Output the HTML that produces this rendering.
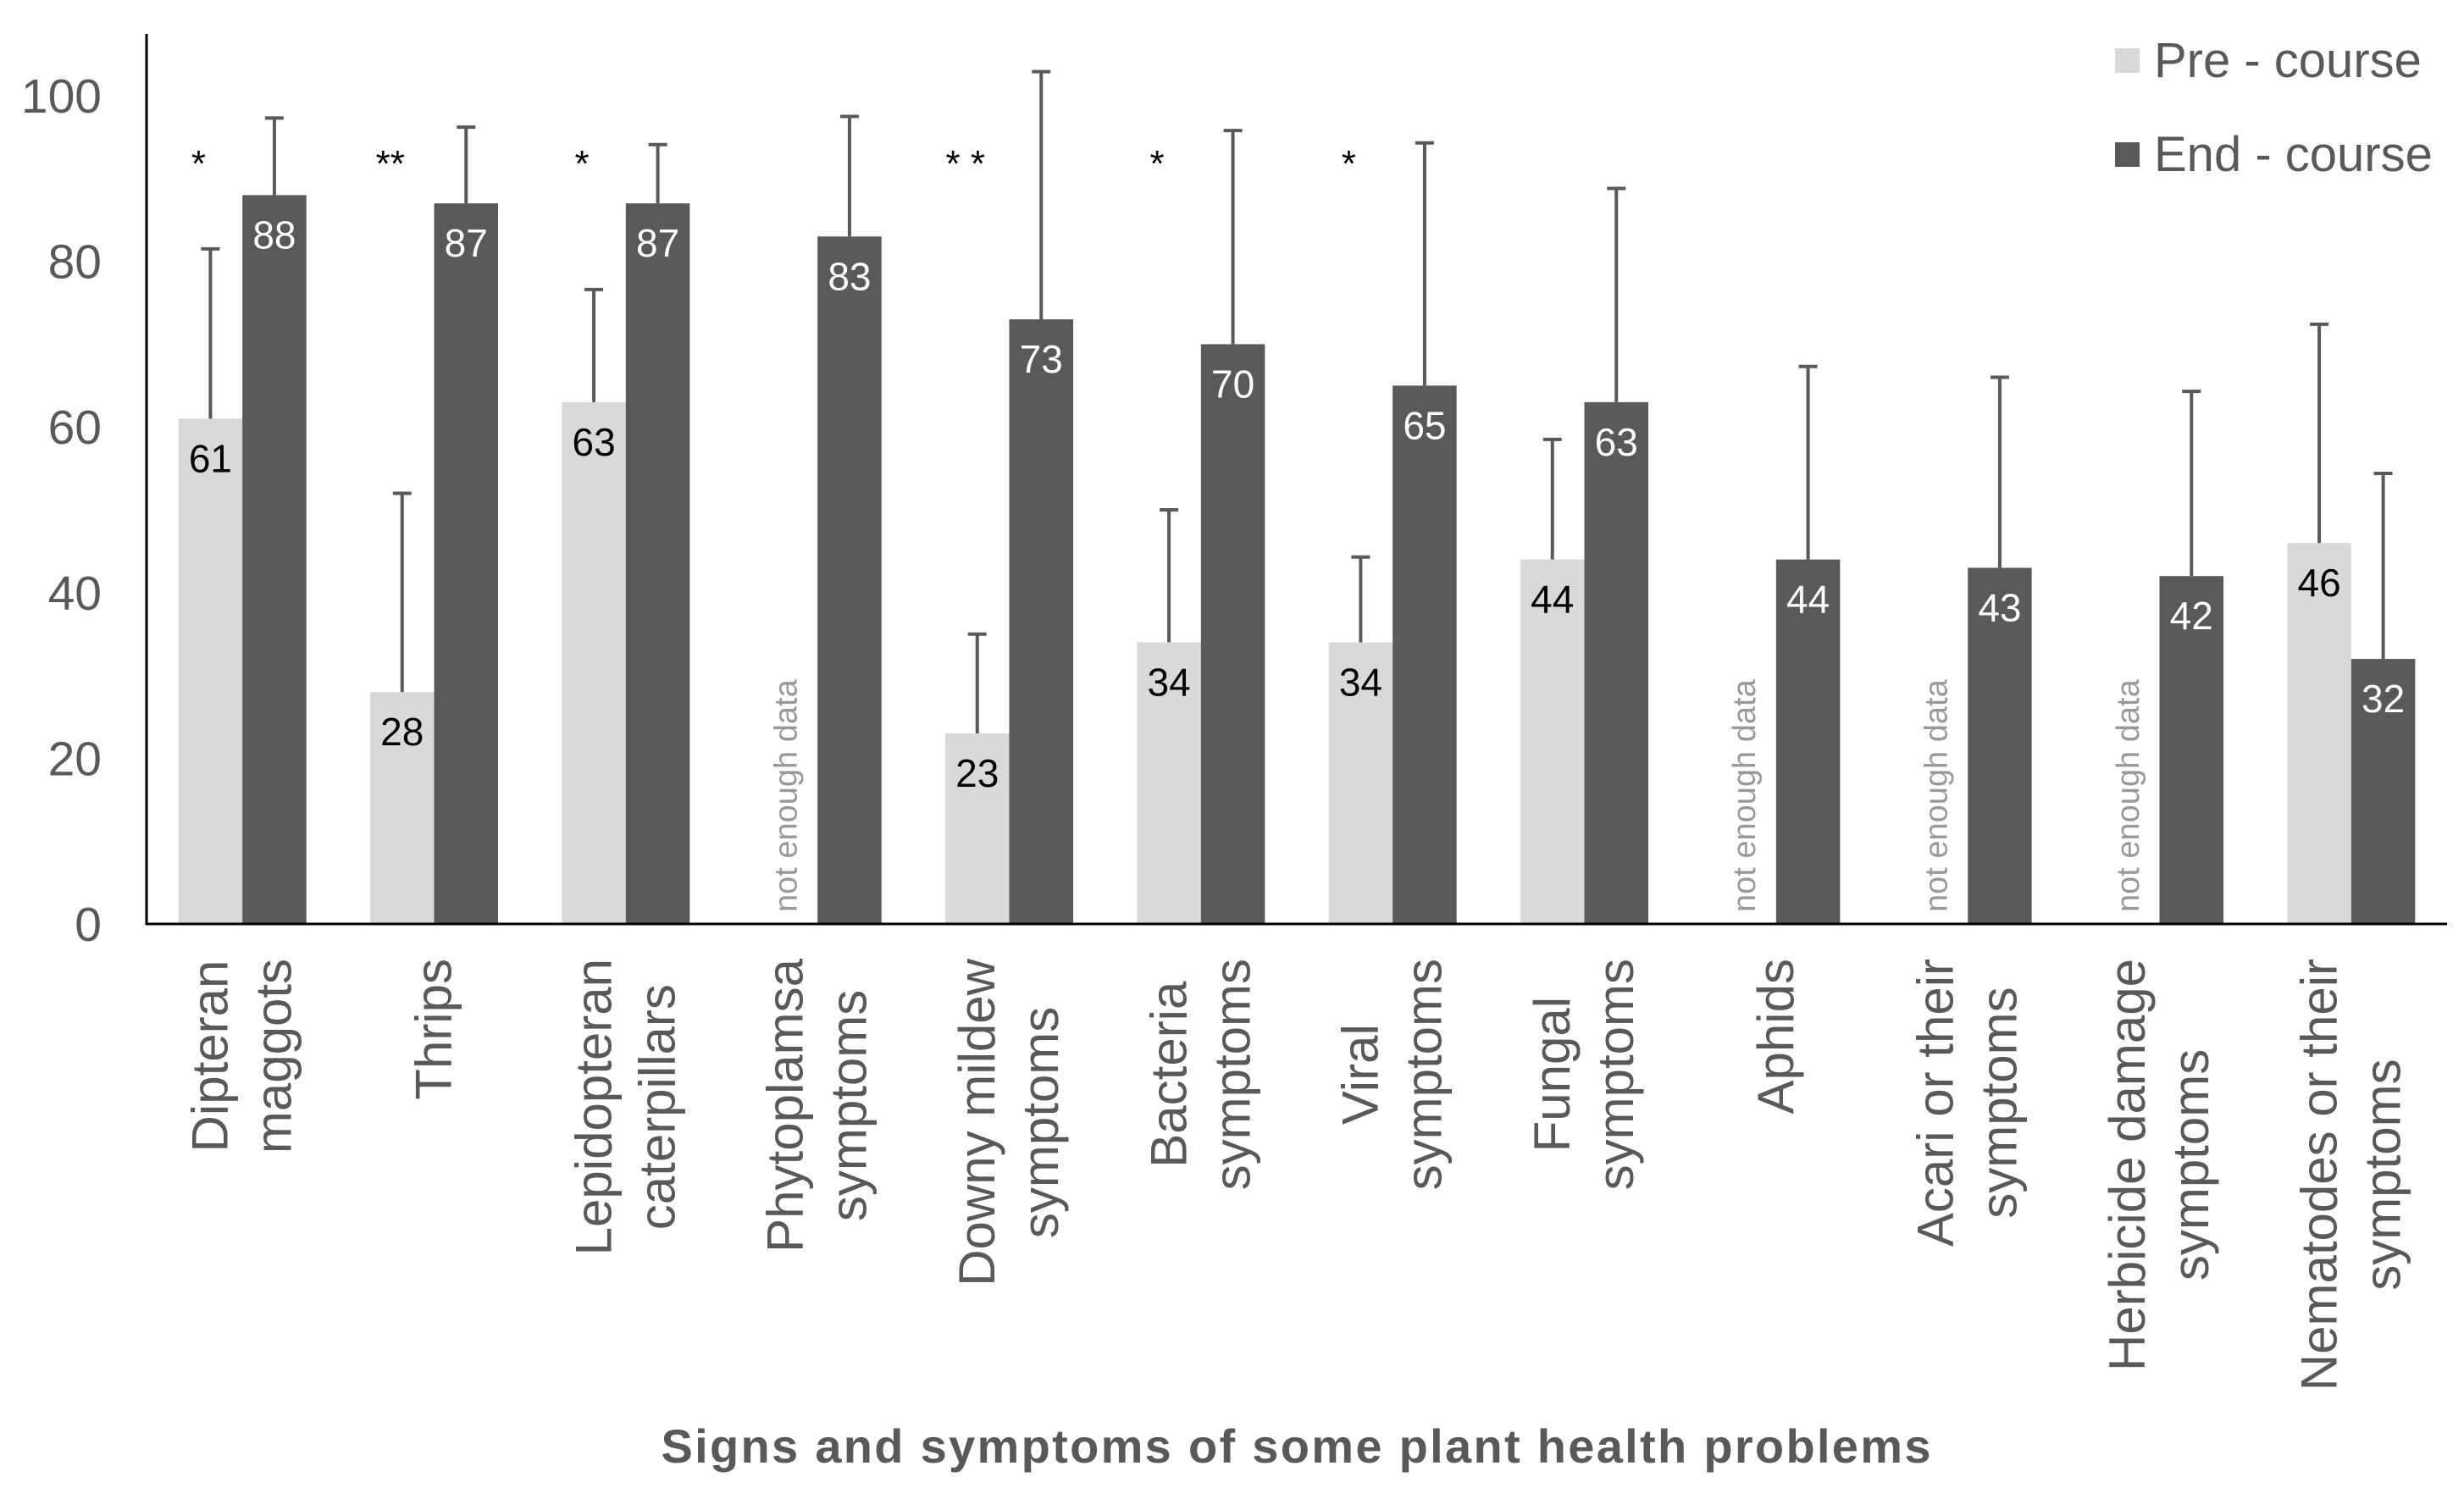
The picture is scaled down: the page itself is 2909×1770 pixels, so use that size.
<!DOCTYPE html>
<html><head><meta charset="utf-8"><style>
html,body{margin:0;padding:0;background:#fff;}
svg{display:block;font-family:"Liberation Sans",Arial,sans-serif;}
</style></head><body>
<svg id="chart" width="2909" height="1770" viewBox="0 0 2909 1770"></svg>
<script>
const categories=[["Dipteran","maggots"],["Thrips"],["Lepidopteran","caterpillars"],["Phytoplamsa","symptoms"],["Downy mildew","symptoms"],["Bacteria","symptoms"],["Viral","symptoms"],["Fungal","symptoms"],["Aphids"],["Acari or their","symptoms"],["Herbicide damage","symptoms"],["Nematodes or their","symptoms"]];
const preValues=[61,28,63,null,23,34,34,44,null,null,null,46];
const endValues=[88,87,87,83,73,70,65,63,44,43,42,32];
const preErrors=[20.5,24,13.6,null,12,16,10.3,14.5,null,null,null,26.4];
const endErrors=[9.3,9.2,7.1,14.5,29.9,25.8,29.3,25.8,23.3,23,22.3,22.4];
const stars=["*","**","*","","* *","*","*","","","","",""];
const yTicks=[0,20,40,60,80,100];

const NS="http://www.w3.org/2000/svg";
const svg=document.getElementById('chart');
const X0=173,X1=2889,Y0=1091,PPU=9.78;
const groupW=(X1-X0)/categories.length,barW=75.5;
function y(v){return Y0-v*PPU;}
function gx(i){return X0+groupW*(i+0.5);}
function mk(tag,attrs,txt){const e=document.createElementNS(NS,tag);for(const k in attrs)e.setAttribute(k,attrs[k]);if(txt!==undefined)e.textContent=txt;svg.appendChild(e);return e;}

yTicks.forEach(t=>{
  const e=mk('text',{x:120,y:y(t)+20,'text-anchor':'end','font-size':57,fill:'#595959'},String(t));
  
  
});

function errBar(cx,v,err,name){
  const top=y(v+err);
  const l=mk('line',{x1:cx,x2:cx,y1:y(v),y2:top,stroke:'#595959','stroke-width':4});
  
  
  const c=mk('line',{x1:cx-11,x2:cx+11,y1:top,y2:top,stroke:'#595959','stroke-width':4});
  
  
}

categories.forEach((lab,i)=>{
  const c=gx(i);
  const pc=c-barW/2, ec=c+barW/2;
  if(preValues[i]!==null){
    const r=mk('rect',{x:c-barW,y:y(preValues[i]),width:barW,height:preValues[i]*PPU,fill:'#d9d9d9'});
    
    
    errBar(pc,preValues[i],preErrors[i],'error-bar-pre');
    const t=mk('text',{x:pc,y:y(preValues[i])+63,'text-anchor':'middle','font-size':46,fill:'#000'},String(preValues[i]));
    
    
  } else {
    const t=mk('text',{x:0,y:0,'text-anchor':'start','font-size':38,fill:'#999',transform:`translate(${pc+13},${Y0-14}) rotate(-90)`,'xml:space':'preserve'},'not enough  data');
    
    
  }
  const r2=mk('rect',{x:c,y:y(endValues[i]),width:barW,height:endValues[i]*PPU,fill:'#595959'});
  
  
  errBar(ec,endValues[i],endErrors[i],'error-bar-end');
  const t2=mk('text',{x:ec,y:y(endValues[i])+63,'text-anchor':'middle','font-size':46,fill:'#fff'},String(endValues[i]));
  
  
  if(stars[i]){
    const s=mk('text',{x:pc-14,y:208,'text-anchor':'middle','font-size':44,fill:'#000'},stars[i]);
    
    
  }
  const n=lab.length, lh=75;
  const els=lab.map((line,j)=>{
    const lx=c+(j-(n-1)/2)*lh+20;
    const t=mk('text',{x:0,y:0,'text-anchor':'middle','font-size':60,fill:'#595959'},line);
    
    
    return [t,lx];
  });
  let L=0;els.forEach(([t])=>{L=Math.max(L,t.getComputedTextLength());});
  const cy=1132+L/2;
  els.forEach(([t,lx])=>t.setAttribute('transform',`translate(${lx},${cy}) rotate(-90)`));
});

const ya=mk('line',{x1:X0,x2:X0,y1:40,y2:Y0+1,stroke:'#000','stroke-width':3});


const xa=mk('line',{x1:X0-1,x2:X1,y1:Y0,y2:Y0,stroke:'#000','stroke-width':3});



const title=mk('text',{x:1530,y:1727,'text-anchor':'middle','font-size':56,'font-weight':'bold',fill:'#595959',textLength:1499},'Signs and symptoms of some plant health problems');



const lg1=mk('rect',{x:2497,y:57,width:29,height:29,fill:'#d9d9d9'});


const lt1=mk('text',{x:2543,y:91,'font-size':58,fill:'#595959'},'Pre - course');


const lg2=mk('rect',{x:2497,y:168,width:29,height:29,fill:'#595959'});


const lt2=mk('text',{x:2543,y:202,'font-size':58,fill:'#595959'},'End - course');


</script>
</body></html>
